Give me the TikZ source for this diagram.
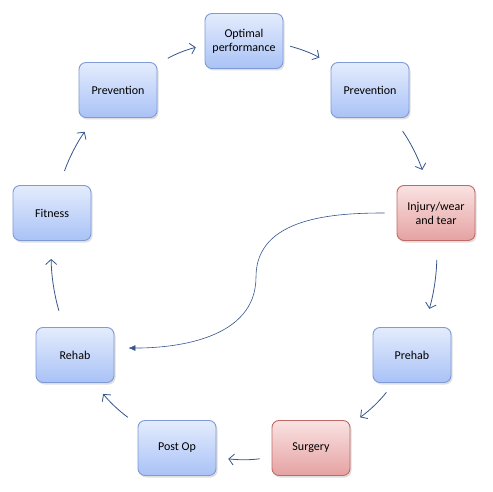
\documentclass[tikz,border=0pt]{standalone}
\usepackage{fontspec}
\setmainfont{Carlito}
\usetikzlibrary{arrows.meta,shadows}
\definecolor{BoxTop}{HTML}{E4ECFD}
\definecolor{BoxBot}{HTML}{A9C2F6}
\definecolor{BoxLine}{HTML}{7F9AD4}
\definecolor{HurtTop}{HTML}{FAE2E2}
\definecolor{HurtBot}{HTML}{E5A2A2}
\definecolor{HurtLine}{HTML}{C06A68}
\definecolor{Flow}{HTML}{37568A}

\begin{document}
\begin{tikzpicture}[x=1pt,y=1pt,font=\fontsize{12}{14}\selectfont,
    stage/.style={draw=#1Line,top color=#1Top,bottom color=#1Bot,rounded corners=7pt,
      line width=.9pt,minimum width=78pt,minimum height=55pt,align=center,
      drop shadow={opacity=.25,shadow xshift=1.5pt,shadow yshift=-2pt}},
    flow/.style={draw=Flow,line width=.8pt,-{Straight Barb[length=5pt,width=11pt]}}]
  \fill[white] (0,0) rectangle (493,-492);
  \useasboundingbox (0,0) rectangle (493,-492);
  % the boxes round the circle
  \foreach \x/\y/\name/\txt/\col in {244/41/opt/{Optimal\\performance}/Box,
      370/90/prevR/Prevention/Box,436/213/inj/{Injury/wear\\and tear}/Hurt,
      412/355/prehab/Prehab/Box,311/448/surg/Surgery/Hurt,177/448/postop/Post Op/Box,
      75/355/rehab/Rehab/Box,52/213/fit/Fitness/Box,118/90/prevL/Prevention/Box}{
    \node[stage=\col] (\name) at (\x,-\y) {\txt};}
  % arrows, clockwise
  \foreach \src/\sa/\dst/\da/\s/\t in {prevL/33/opt/186/12/9,opt/-5/prevR/147/7/13,
      prevR/-50/inj/107/16/16,inj/-88/prehab/67/19/19,prehab/-123/surg/31/12/12,
      surg/193/postop/-13/12/12,postop/149/rehab/-55/12/14,rehab/112/fit/-92/17/18,
      fit/75/prevL/-130/15/17}{
    \draw[flow,shorten <=\s pt,shorten >=\t pt] (\src.\sa) to[bend left=8] (\dst.\da);}
  % shortcut from injury back to rehab
  \coordinate (turn) at (256,-277);
  \draw[draw=Flow,line width=.6pt,-{Latex[length=7pt,width=6pt]},shorten <=12pt,shorten >=14pt]
    (inj.west) to[out=180,in=90] (turn) to[out=-90,in=0] (rehab.10);
\end{tikzpicture}
\end{document}
